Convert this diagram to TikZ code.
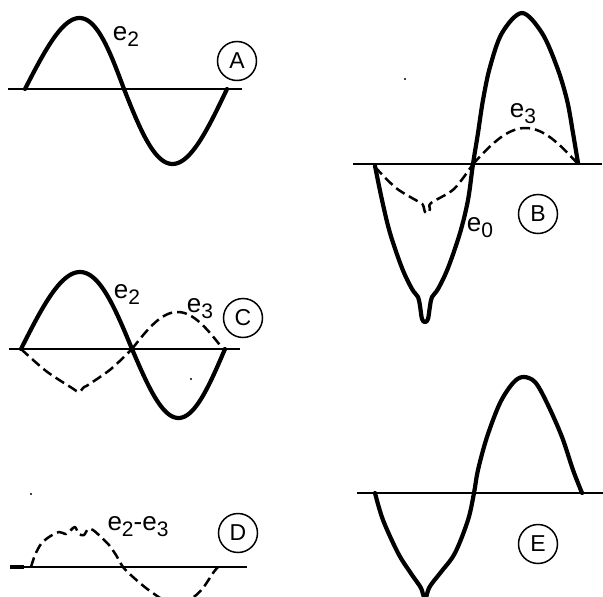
\documentclass[tikz,border=0pt]{standalone}
\usepackage{fontspec}
\setmainfont{Liberation Sans}
\newcommand{\lsub}[1]{\raisebox{-6pt}{\fontsize{21}{21}\selectfont #1}}
\begin{document}
\begin{tikzpicture}[x=1pt,y=-1pt,
  wave/.style={line width=4.2pt, line cap=round, line join=round},
  axisline/.style={line width=2.1pt},
  dashwave/.style={line width=2.5pt, dash pattern=on 10pt off 5pt, line join=round},
  tag/.style={circle, draw, line width=1.5pt, minimum size=39pt, inner sep=0pt, font=\fontsize{23}{23}\selectfont},
  lbl/.style={font=\fontsize{26}{26}\selectfont, inner sep=0pt},
  speck/.style={fill=black, circle, inner sep=0pt, minimum size=2.4pt}]
\useasboundingbox (0,0) rectangle (603,597);
\clip (0,0) rectangle (603,597);

% ---------- Panel A ----------
\draw[axisline] (8,89) -- (242,89);
\draw[wave] plot[domain=0:180, samples=60] ({25+\x/180*99+5*sin(\x)},{89-71*sin(\x)})
  -- plot[domain=0:180, samples=60] ({124+\x/180*103-3*sin(\x)},{89+75*sin(\x)});
\node[lbl] (lA) at (126,37) {e\lsub{2}};
\node[tag] (tA) at (237,61) {A};

% ---------- Panel B ----------
\draw[axisline] (353,164) -- (602,164);
\draw[wave] plot[smooth, tension=0.55] coordinates {(375,166) (382,200) (390,233) (402,268) (412,289) (418,297) (420,306) (422,319) (425,322) (428,319) (430,306) (432,297) (438,289) (448,268) (460,233) (468,200) (473,164) (478,133) (483,100) (490,67) (502,33) (522,13) (542,33) (557,67) (567,100) (573,133) (578,163)};
\draw[dashwave] plot[smooth, tension=0.5] coordinates {(375,167) (396,188) (419,202) (423,205) (425,212) (428,213) (430,209) (431,203) (454,189) (473,164)};
\draw[dashwave] plot[domain=0:180, samples=50] ({473+\x/180*105},{164-36*sin(\x)});
\node[lbl] (lB3) at (523,114) {e\lsub{3}};
\node[lbl] (lB0) at (480,228) {e\lsub{0}};
\node[tag] (tB) at (538,214) {B};
\node[speck] (sB) at (405,79) {};

% ---------- Panel C ----------
\draw[axisline] (9,349) -- (240,349);
\draw[wave] plot[domain=0:180, samples=60] ({21+\x/180*111+3.5*sin(\x)},{349-77*sin(\x)})
  -- plot[domain=0:180, samples=60] ({132+\x/180*93},{349+69*sin(\x)});
\draw[dashwave] plot[smooth, tension=0.5] coordinates {(21,349) (46,371) (72,388) (79,392) (84,387) (88,385) (111,369) (132,349)};
\draw[dashwave] plot[domain=0:180, samples=50] ({132+\x/180*91},{349-37*sin(\x)});
\node[lbl] (lC2) at (127,295) {e\lsub{2}};
\node[lbl] (lC3) at (200,309) {e\lsub{3}};
\node[tag] (tC) at (243,318) {C};
\node[speck] (sC) at (191,379) {};

% ---------- Panel D ----------
\draw[axisline] (10,567) -- (247,567);
\draw[line width=3.2pt] (10,567) -- (24,567);
\draw[dashwave] plot[smooth, tension=0.5] coordinates {(31,567) (35,555) (41,544) (49,537) (59,532) (66,534) (71,530) (75,527) (79,534) (84,535) (88,529) (93,530) (101,537) (109,545) (116,555) (123,567) (133,577) (150,591) (172,604) (192,598) (203,588) (213,573) (218,567)};
\node[lbl] (lD) at (138,527) {e\lsub{2}-e\lsub{3}};
\node[tag] (tD) at (238,533) {D};
\node[speck] (sD) at (31,494) {};

% ---------- Panel E ----------
\draw[axisline] (357,493) -- (603,493);
\draw[wave] plot[smooth, tension=0.55] coordinates {(375,493) (383,520) (398,553) (410,572) (417,582) (421,588) (423,594) (425,600) (427,594) (429,588) (433,582) (441,572) (455,553) (468,520) (474,493) (478,470) (487,437) (500,403) (513,383) (523,377) (535,382) (547,403) (562,437) (573,470) (582,493)};
\node[tag] (tE) at (538,544) {E};
\end{tikzpicture}
\end{document}
